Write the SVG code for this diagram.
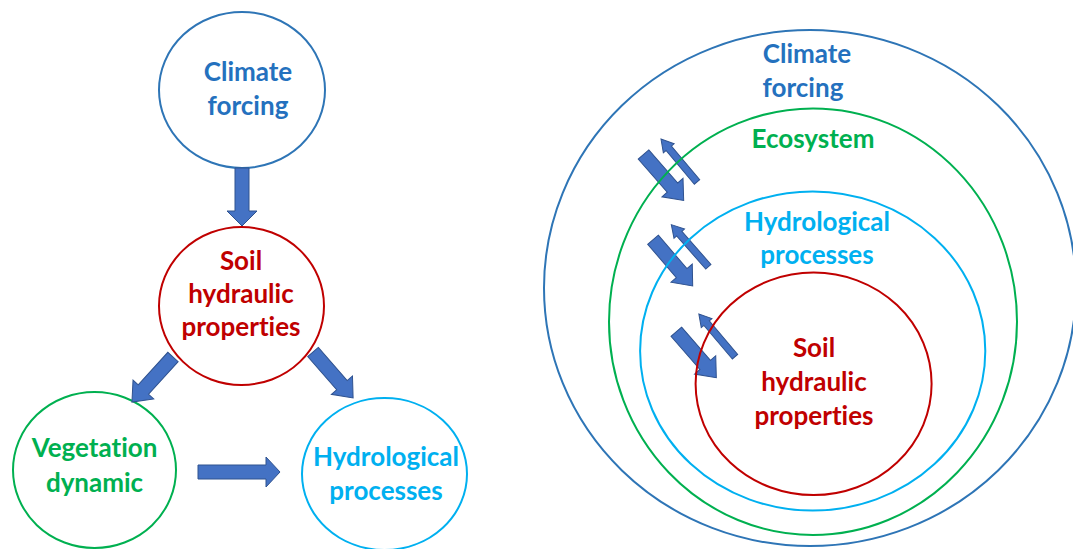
<svg xmlns="http://www.w3.org/2000/svg" width="1073" height="549" viewBox="0 0 1073 549">
  <style>
    .ring { fill: none; stroke-width: 2; }
    .lbl { font-family: Lato, "Open Sans", "Liberation Sans", sans-serif; font-weight: bold; font-size: 26px; text-anchor: middle; font-variant-ligatures: none; }
    .blue { stroke: #2E75B6; }
    .green { stroke: #00B050; }
    .cyan { stroke: #00B0F0; }
    .red { stroke: #C00000; }
    .tblue { fill: #2471BE; }
    .tgreen { fill: #00B050; }
    .tcyan { fill: #00B0F0; }
    .tred { fill: #C00000; }
    .arrow { fill: #4472C4; stroke: #2F528F; stroke-width: 1; stroke-linejoin: miter; }
  </style>
  <defs>
    <!-- block arrows pointing along +x, tail at origin -->
    <path id="bigArrow" d="M0,-7 H44 V-14 L61,0 L44,14 V7 H0 Z"/>
    <path id="thinArrow" d="M0,-3.5 H44 V-7 L56,0 L44,7 V3.5 H0 Z"/>
  </defs>
  <rect width="1073" height="549" fill="#ffffff"/>

  <!-- Left: causal chain -->
  <g id="climate-left">
    <ellipse class="ring blue" cx="242" cy="90" rx="83" ry="78"/>
    <text class="lbl tblue" x="248" y="81">Climate</text>
    <text class="lbl tblue" x="248" y="115">forcing</text>
  </g>
  <g id="soil-left">
    <ellipse class="ring red" cx="241.5" cy="306" rx="82.5" ry="79"/>
    <text class="lbl tred" x="241" y="270">Soil</text>
    <text class="lbl tred" x="241" y="303">hydraulic</text>
    <text class="lbl tred" x="241" y="336">properties</text>
  </g>
  <g id="vegetation-left">
    <ellipse class="ring green" cx="94.5" cy="470" rx="81.5" ry="78"/>
    <text class="lbl tgreen" x="94.5" y="457">Vegetation</text>
    <text class="lbl tgreen" x="94.5" y="492">dynamic</text>
  </g>
  <g id="hydro-left">
    <ellipse class="ring cyan" cx="384.5" cy="474" rx="82.5" ry="76"/>
    <text class="lbl tcyan" x="386" y="466">Hydrological</text>
    <text class="lbl tcyan" x="386" y="500">processes</text>
  </g>

  <g id="connectors">
    <path class="arrow" d="M235,168 H249 V211 H257 L242,226 L227,211 H235 Z"/>
    <use href="#bigArrow" class="arrow" transform="translate(173,357) rotate(132.3)"/>
    <use href="#bigArrow" class="arrow" transform="translate(313,352) rotate(48.9)"/>
    <path class="arrow" d="M198,465 H266 V457 L280,472 L266,487 V479 H198 Z"/>

    <!-- exchange arrows across the nested layers -->
    <use href="#bigArrow" class="arrow" transform="translate(643.5,154.5) rotate(48.8)"/>
    <use href="#thinArrow" class="arrow" transform="translate(697,182) rotate(230)"/>
    <use href="#bigArrow" class="arrow" transform="translate(653,239.7) rotate(49.4)"/>
    <use href="#thinArrow" class="arrow" transform="translate(708.3,266.7) rotate(228.7)"/>
    <use href="#bigArrow" class="arrow" transform="translate(676.3,331.7) rotate(49)"/>
    <use href="#thinArrow" class="arrow" transform="translate(735,356.7) rotate(229.8)"/>
  </g>

  <!-- Right: nested layers -->
  <g id="climate-right">
    <ellipse class="ring blue" cx="810" cy="288" rx="266" ry="258"/>
    <text class="lbl tblue" x="807" y="63">Climate</text>
    <text class="lbl tblue" x="803" y="97">forcing</text>
  </g>
  <g id="ecosystem-right">
    <ellipse class="ring green" cx="813" cy="321.7" rx="204" ry="213.3"/>
    <text class="lbl tgreen" x="813" y="148">Ecosystem</text>
  </g>
  <g id="hydro-right">
    <ellipse class="ring cyan" cx="812.7" cy="351" rx="172.6" ry="159.6"/>
    <text class="lbl tcyan" x="817" y="231">Hydrological</text>
    <text class="lbl tcyan" x="817" y="264">processes</text>
  </g>
  <g id="soil-right">
    <ellipse class="ring red" cx="813.6" cy="383.8" rx="118" ry="111.3"/>
    <text class="lbl tred" x="814" y="357">Soil</text>
    <text class="lbl tred" x="814" y="391">hydraulic</text>
    <text class="lbl tred" x="814" y="425">properties</text>
  </g>
</svg>
